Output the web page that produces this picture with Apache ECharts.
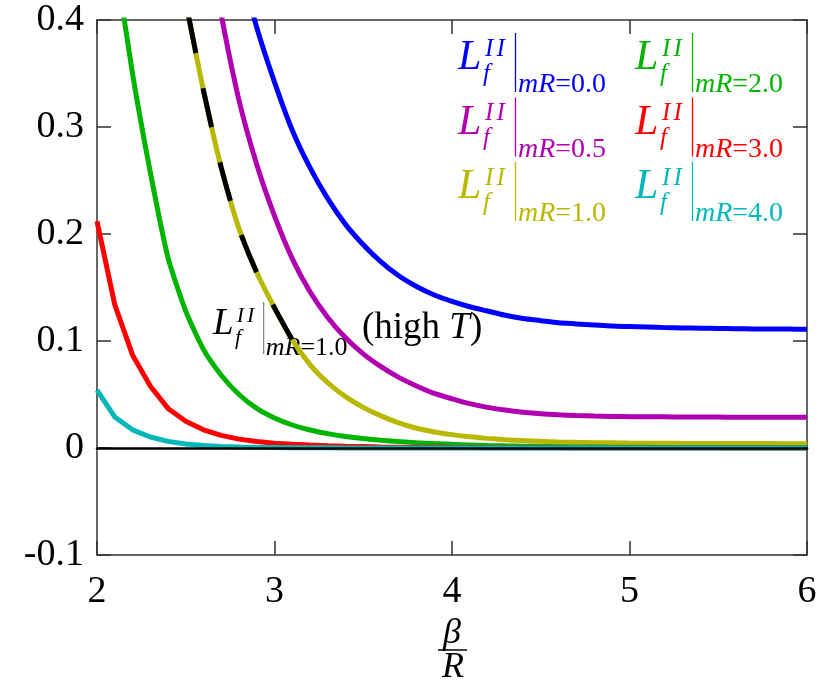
<!DOCTYPE html>
<html><head><meta charset="utf-8">
<script src="https://cdn.jsdelivr.net/npm/echarts@6/dist/echarts.min.js"></script>
<style>html,body{margin:0;padding:0;background:#fff}#c{width:821px;height:688px}</style>
</head><body><div id="c"></div>
<script>
// beta/R sample points
const betaOverR = [2.0,2.1,2.2,2.3,2.4,2.5,2.6,2.7,2.8,2.9,3.0,3.1,3.2,3.3,3.4,3.5,3.6,3.7,3.8,3.9,4.0,4.1,4.2,4.3,4.4,4.5,4.6,4.7,4.8,4.9,5.0,5.1,5.2,5.3,5.4,5.5,5.6,5.7,5.8,5.9,6.0];
const mR00 = [null,null,null,null,null,null,null,null,0.455,0.393,0.342,0.297,0.262,0.233,0.209,0.190,0.174,0.161,0.151,0.143,0.137,0.132,0.128,0.124,0.121,0.119,0.117,0.116,0.115,0.114,0.1135,0.113,0.1125,0.1122,0.112,0.1117,0.1115,0.1113,0.1112,0.1111,0.111];
const mR05 = [null,null,null,null,null,null,0.50,0.405,0.325,0.265,0.217,0.177,0.146,0.122,0.103,0.088,0.076,0.066,0.058,0.051,0.046,0.0415,0.038,0.0355,0.0335,0.032,0.031,0.0303,0.0298,0.0295,0.0293,0.0292,0.0291,0.029,0.0289,0.0289,0.0288,0.0288,0.0287,0.0287,0.0287];
const mR10 = [null,null,null,null,null,0.417,0.334,0.262,0.205,0.164,0.131,0.101,0.078,0.061,0.048,0.038,0.030,0.0235,0.0185,0.015,0.0125,0.0105,0.009,0.0078,0.0069,0.0062,0.0057,0.0053,0.005,0.0048,0.0046,0.0045,0.0044,0.0043,0.0043,0.0042,0.0042,0.0041,0.0041,0.004,0.004];
const mR20 = [null,0.46,0.35,0.258,0.178,0.128,0.092,0.068,0.050,0.037,0.028,0.0215,0.0168,0.0134,0.0108,0.0088,0.0072,0.006,0.005,0.0041,0.0034,0.0029,0.0024,0.002,0.0017,0.0014,0.0012,0.001,0.0009,0.0008,0.0007,0.0006,0.0005,0.0005,0.0004,0.0004,0.0003,0.0003,0.0003,0.0002,0.0002];
const mR30 = [0.212,0.134,0.087,0.058,0.037,0.025,0.017,0.0118,0.0083,0.006,0.0045,0.0035,0.0027,0.0021,0.0016,0.0013,0.001,0.0008,0.0007,0.0006,0.0005,0.0004,0.0003,0.0003,0.0002,0.0002,0.0002,0.0001,0.0001,0.0001,0.0001,0.0001,0.0001,0.0001,0,0,0,0,0,0,0];
const mR40 = [0.054,0.029,0.017,0.0103,0.0062,0.0038,0.0024,0.0015,0.001,0.0007,0.0005,0.0003,0.0002,0.0002,0.0001,0.0001,0.0001,0,0,0,0,0,0,0,0,0,0,0,0,0,0,0,0,0,0,0,0,0,0,0,0];
// high-T approximation for mR=1.0 (x from 2.5 to 3.1)
const highTx = [2.5,2.6,2.7,2.8,2.9,3.0,3.1];
const highT = [0.417,0.334,0.262,0.205,0.164,0.131,0.101];
const xTicks = [2,3,4,5,6];
const yTickLabels = ['-0.1','0','0.1','0.2','0.3','0.4'];
const seriesNames = ['0.0','0.5','1.0','2.0','3.0','4.0'];
const seriesColors = ['#0000ff','#b000b0','#b8b800','#00b400','#ff0000','#00b8b8'];
const seriesData = [mR00,mR05,mR10,mR20,mR30,mR40];
const seriesSmooth = [0.25,0.25,0.25,0.2,0,0];

const FONT = '"Liberation Serif", "Times New Roman", serif';
function pairs(xs, ys){ const out=[]; xs.forEach((x,i)=>{ if(ys[i]!==null) out.push([x,ys[i]]); }); return out; }

function fLabel(x0, y0, color, sub, s, barColor, subSize){
  const va = {verticalAlign:'middle', textVerticalAlign:'middle', align:'left', textAlign:'left'};
  const ss = subSize || 28*s;
  return [
    {type:'text', x:x0, y:y0+25*s, style:Object.assign({text:'L', font:`italic ${42*s}px ${FONT}`, fill:color}, va)},
    {type:'text', x:x0+27*s, y:y0+16*s, style:Object.assign({text:'I', font:`italic ${25*s}px ${FONT}`, fill:color}, va)},
    {type:'text', x:x0+38.5*s, y:y0+16*s, style:Object.assign({text:'I', font:`italic ${25*s}px ${FONT}`, fill:color}, va)},
    {type:'text', x:x0+25*s, y:y0+41*s, style:Object.assign({text:'f', font:`italic ${25*s}px ${FONT}`, fill:color}, va)},
    {type:'line', shape:{x1:x0+57.5*s, y1:y0, x2:x0+57.5*s, y2:y0+59*s}, style:{stroke:barColor||color, lineWidth:1.3}},
    {type:'text', x:x0+60*s, y:y0+52*s, style:Object.assign({text:'{i|mR}{n|='+sub+'}', fill:color,
      rich:{i:{fontStyle:'italic', fontSize:ss, fontFamily:FONT, fill:color}, n:{fontSize:ss, fontFamily:FONT, fill:color}}}, va)}
  ];
}

let graphics = [];
const colX = [458, 635], rowY = [33, 97.5, 162];
seriesNames.forEach((n,i)=>{
  const c = Math.floor(i/3), r = i%3;
  graphics = graphics.concat(fLabel(colX[c], rowY[r], seriesColors[i], n, 1));
});
graphics = graphics.concat(fLabel(213, 302, '#000', '1.0', 0.88, '#888', 26));
graphics.push({type:'text', x:362, y:328, style:{text:'{n|(high }{i|T}{n|)}', verticalAlign:'middle', textVerticalAlign:'middle', fill:'#000',
  rich:{n:{fontSize:37, fontFamily:FONT, fill:'#000'}, i:{fontSize:37, fontStyle:'italic', fontFamily:FONT, fill:'#000'}}}});
// axis title beta / R
graphics.push({type:'text', x:452, y:634, style:{text:'β', font:`italic 36px ${FONT}`, fill:'#000', align:'center', textAlign:'center', verticalAlign:'middle', textVerticalAlign:'middle'}});
graphics.push({type:'line', shape:{x1:438, y1:650, x2:467, y2:650}, style:{stroke:'#000', lineWidth:1.5}});
graphics.push({type:'text', x:453, y:668, style:{text:'R', font:`italic 36px ${FONT}`, fill:'#000', align:'center', textAlign:'center', verticalAlign:'middle', textVerticalAlign:'middle'}});

const axisCol = '#333';
const baseX = {type:'value', min:2, max:6, interval:1, splitLine:{show:false},
  axisLine:{show:true, onZero:false, lineStyle:{color:axisCol, width:1.5}},
  axisTick:{show:true, inside:true, length:14, lineStyle:{color:axisCol, width:1.5}}};
const baseY = {type:'value', min:-0.1, max:0.4, interval:0.1, splitLine:{show:false},
  axisLine:{show:true, onZero:false, lineStyle:{color:axisCol, width:1.5}},
  axisTick:{show:true, inside:true, length:14, lineStyle:{color:axisCol, width:1.5}}};

const series = seriesData.map((d,i)=>({
  type:'line', name:'mR='+seriesNames[i], data:pairs(betaOverR, d), showSymbol:false, symbol:'none',
  smooth:seriesSmooth[i],
  lineStyle:{color:seriesColors[i], width:5}, itemStyle:{color:seriesColors[i]}, clip:true, z:2+i
}));
series.push({type:'line', name:'high T', data:pairs(highTx, highT), symbol:'none', clip:true, z:9,
  smooth:0.25,
  lineStyle:{color:'#000', width:5, type:[40,36], dashOffset:-12}});

const chart = echarts.init(document.getElementById('c'));
chart.setOption({
  animation:false, backgroundColor:'#fff',
  grid:{left:97, right:14, top:20, bottom:133},
  xAxis:[Object.assign({}, baseX, {position:'bottom', axisLabel:{fontSize:38, fontFamily:FONT, color:'#000', margin:18,
      formatter:(v)=> xTicks.indexOf(Math.round(v))>=0 ? String(Math.round(v)) : ''}}),
    Object.assign({}, baseX, {position:'top', axisLabel:{show:false}}),
    // zero line drawn by an axis sitting on y = 0
    {type:'value', min:2, max:6, interval:1, z:20, position:'bottom',
      axisLine:{show:true, onZero:true, onZeroAxisIndex:0, lineStyle:{color:'#000', width:2.5}},
      axisTick:{show:false}, axisLabel:{show:false}, splitLine:{show:false}}],
  yAxis:[Object.assign({}, baseY, {position:'left', axisLabel:{fontSize:38, fontFamily:FONT, color:'#000', margin:13,
      formatter:(v)=> yTickLabels[Math.round((v+0.1)*10)]}}),
    Object.assign({}, baseY, {position:'right', axisLabel:{show:false}})],
  series: series,
  graphic: graphics
});
</script></body></html>
